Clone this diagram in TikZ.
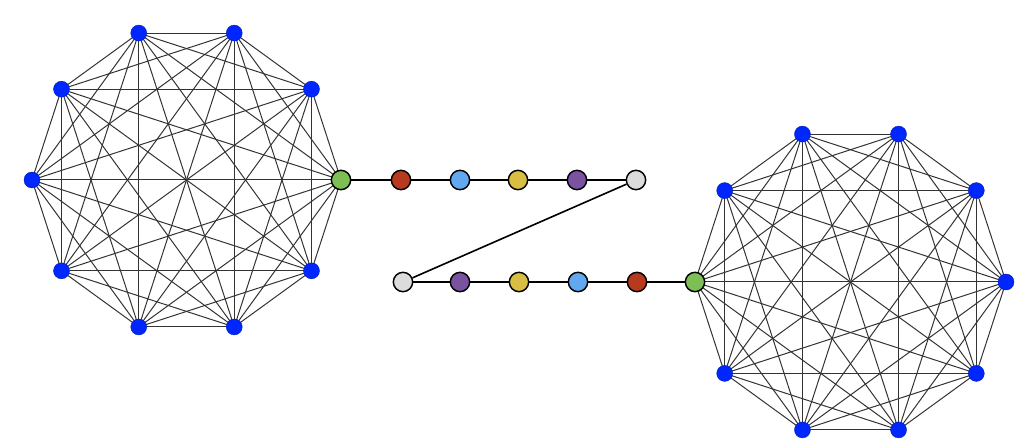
\documentclass[tikz,border=0pt]{standalone}
\begin{document}
\begin{tikzpicture}[x=0.75pt,y=-0.75pt,
  vb/.style={circle,fill=cblue,draw=cblue!70!black,line width=0.3pt,minimum size=12pt,inner sep=0pt},
  pn/.style={circle,draw=black,line width=1.1pt,minimum size=14.5pt,inner sep=0pt},
  ce/.style={draw=black!80,line width=0.75pt},
  pe/.style={draw=black,line width=1.2pt},
  pet/.style={draw=black,line width=1.8pt}]
\definecolor{cblue}{HTML}{0026FF}
\definecolor{cgreen}{HTML}{7DBE55}
\definecolor{cred}{HTML}{B83A1E}
\definecolor{clb}{HTML}{62A8F0}
\definecolor{cyel}{HTML}{D9BE44}
\definecolor{cpur}{HTML}{7A52A0}
\definecolor{cgray}{HTML}{DCDCDC}
\useasboundingbox (0,0) rectangle (1016,441);
% left clique
\foreach \i in {1,...,9} {
  \coordinate (L\i) at ({186.5+154.5*cos(36*\i)},{180-154.5*sin(36*\i)});
}
\coordinate (L0) at (341,180);
% right clique
\foreach \i in {0,...,9} {
  \coordinate (R\i) at ({850.5+155.5*cos(36*\i)},{282-155.5*sin(36*\i)});
}
\foreach \i in {0,...,9} {
  \foreach \j in {0,...,9} {
    \ifnum\i<\j
      \draw[ce] (L\i) -- (L\j);
      \draw[ce] (R\i) -- (R\j);
    \fi
  }
}
% path nodes
\node[pn,fill=cgreen] (a0) at (L0) {};
\node[pn,fill=cred] (a1) at (401,180) {};
\node[pn,fill=clb] (a2) at (460,180) {};
\node[pn,fill=cyel] (a3) at (518,180) {};
\node[pn,fill=cpur] (a4) at (577,180) {};
\node[pn,fill=cgray] (a5) at (636,180) {};
\node[pn,fill=cgray] (b5) at (403,282) {};
\node[pn,fill=cpur] (b4) at (460,282) {};
\node[pn,fill=cyel] (b3) at (519,282) {};
\node[pn,fill=clb] (b2) at (578,282) {};
\node[pn,fill=cred] (b1) at (637,282) {};
\node[pn,fill=cgreen] (b0) at (R5) {};
\draw[pe] (a0) -- (a1);
\draw[pe] (a1) -- (a2);
\draw[pe] (a2) -- (a3);
\draw[pet] (a3) -- (a4);
\draw[pet] (a4) -- (a5);
\draw[pe] (a5) -- (b5);
\draw[pe] (b5) -- (b4);
\draw[pet] (b4) -- (b3);
\draw[pe] (b3) -- (b2);
\draw[pe] (b2) -- (b1);
\draw[pe] (b1) -- (b0);
% blue nodes
\foreach \i in {1,...,9} { \node[vb] (lv\i) at (L\i) {}; }
\foreach \i in {0,...,4,6,7,8,9} { \node[vb] (rv\i) at (R\i) {}; }
\end{tikzpicture}
\end{document}
